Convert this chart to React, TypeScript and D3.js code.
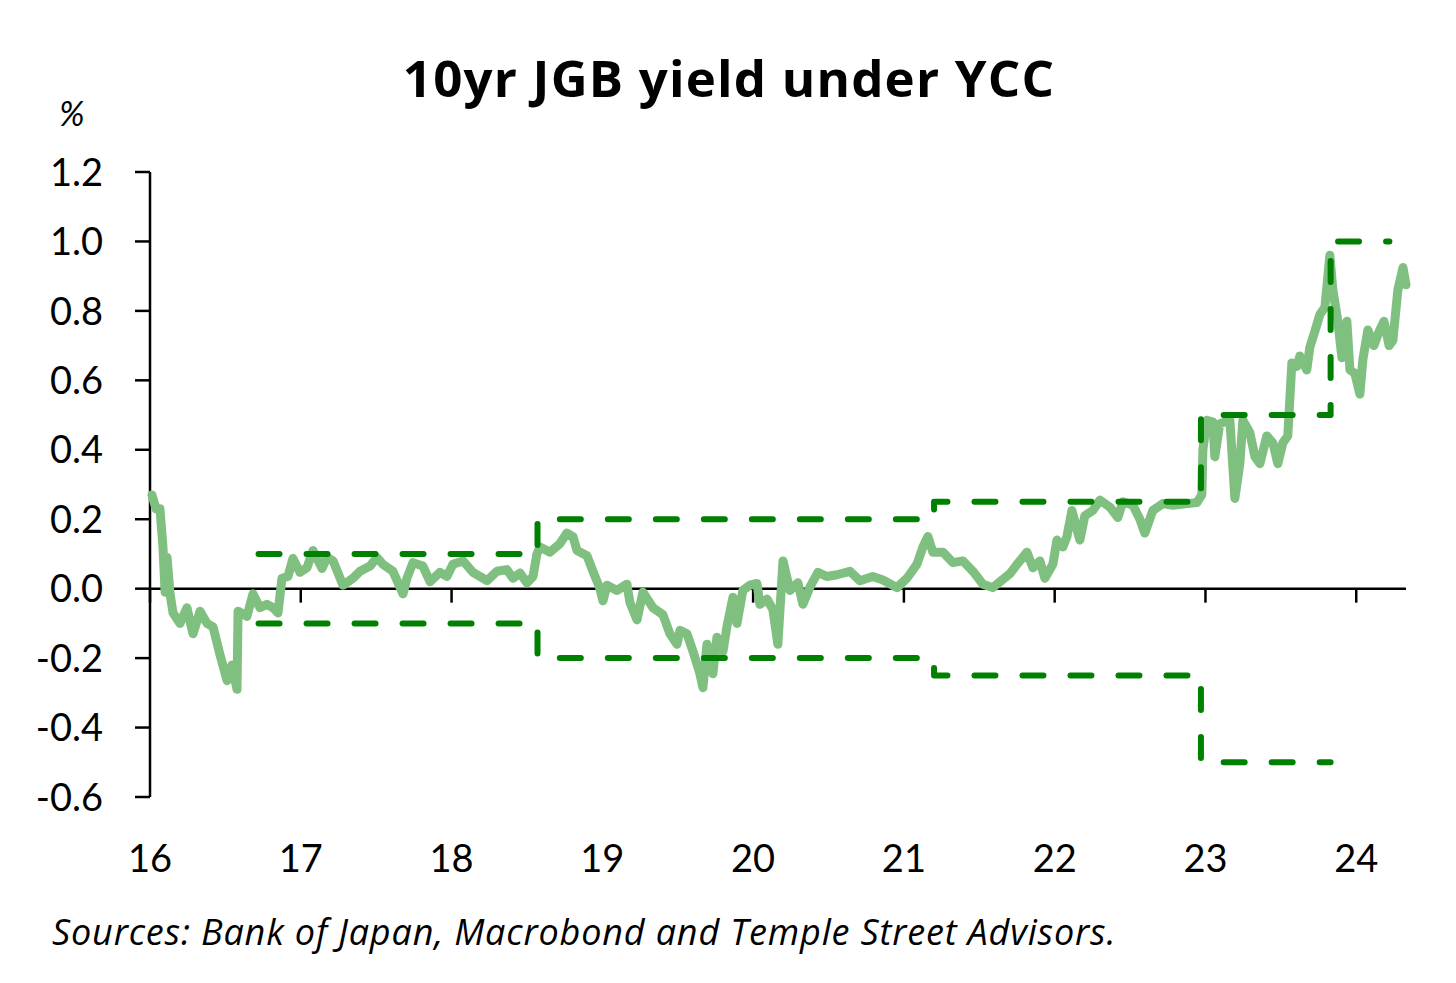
import React from "react";
import * as d3 from "d3";

// 10yr JGB yield (decimal year, %)
const yieldDates: number[] = [
  16.013, 16.04, 16.066, 16.086, 16.1, 16.113, 16.133, 16.153, 16.199, 16.245, 16.285, 16.332, 16.378, 16.418,
  16.464, 16.511, 16.544, 16.577, 16.584, 16.643, 16.683, 16.729, 16.776, 16.816, 16.849, 16.875, 16.915, 16.948,
  16.995, 17.041, 17.081, 17.141, 17.174, 17.214, 17.28, 17.346, 17.393, 17.459, 17.505, 17.545, 17.611, 17.678,
  17.704, 17.744, 17.81, 17.857, 17.923, 17.969, 18.009, 18.076, 18.142, 18.235, 18.301, 18.367, 18.407, 18.454,
  18.5, 18.54, 18.566, 18.586, 18.653, 18.719, 18.765, 18.805, 18.832, 18.898, 18.938, 18.984, 19.004, 19.031,
  19.097, 19.163, 19.183, 19.23, 19.269, 19.336, 19.402, 19.448, 19.495, 19.515, 19.561, 19.601, 19.647, 19.667,
  19.694, 19.733, 19.76, 19.8, 19.826, 19.866, 19.893, 19.932, 19.979, 20.025, 20.045, 20.092, 20.131, 20.164,
  20.198, 20.244, 20.297, 20.33, 20.377, 20.43, 20.489, 20.556, 20.642, 20.708, 20.794, 20.861, 20.954, 21.02,
  21.086, 21.126, 21.159, 21.192, 21.259, 21.325, 21.391, 21.458, 21.524, 21.59, 21.637, 21.703, 21.75, 21.816,
  21.856, 21.902, 21.935, 21.988, 22.015, 22.054, 22.081, 22.114, 22.167, 22.2, 22.253, 22.3, 22.366, 22.419,
  22.452, 22.519, 22.565, 22.598, 22.651, 22.717, 22.784, 22.877, 22.943, 22.976, 22.983, 23.009, 23.049, 23.062,
  23.095, 23.162, 23.195, 23.228, 23.248, 23.294, 23.328, 23.361, 23.407, 23.447, 23.48, 23.513, 23.546, 23.573,
  23.606, 23.626, 23.672, 23.692, 23.725, 23.759, 23.792, 23.825, 23.845, 23.878, 23.905, 23.938, 23.958, 23.991,
  24.024, 24.044, 24.077, 24.117, 24.151, 24.184, 24.218, 24.243, 24.276, 24.31, 24.33,
];
const yieldValues: number[] = [
  0.27, 0.23, 0.23, 0.12, -0.01, 0.09, -0.015, -0.07, -0.1, -0.055, -0.13, -0.065, -0.1, -0.11,
  -0.19, -0.265, -0.22, -0.29, -0.065, -0.08, -0.015, -0.055, -0.045, -0.055, -0.07, 0.03, 0.035, 0.087,
  0.047, 0.06, 0.11, 0.058, 0.09, 0.08, 0.01, 0.03, 0.05, 0.065, 0.09, 0.07, 0.05, -0.015,
  0.03, 0.075, 0.065, 0.02, 0.047, 0.035, 0.07, 0.08, 0.047, 0.023, 0.05, 0.055, 0.03, 0.045,
  0.017, 0.035, 0.1, 0.12, 0.105, 0.13, 0.16, 0.15, 0.11, 0.095, 0.05, 0.0, -0.035, 0.01,
  -0.005, 0.013, -0.04, -0.09, -0.01, -0.055, -0.075, -0.13, -0.16, -0.12, -0.13, -0.18, -0.245, -0.285,
  -0.16, -0.245, -0.14, -0.18, -0.11, -0.025, -0.1, -0.005, 0.01, 0.015, -0.045, -0.03, -0.06, -0.16,
  0.08, -0.005, 0.017, -0.045, 0.005, 0.047, 0.035, 0.04, 0.05, 0.023, 0.035, 0.025, 0.003, 0.03,
  0.07, 0.12, 0.15, 0.105, 0.105, 0.075, 0.08, 0.05, 0.013, 0.003, 0.02, 0.043, 0.07, 0.105,
  0.06, 0.08, 0.03, 0.07, 0.14, 0.12, 0.15, 0.225, 0.14, 0.21, 0.225, 0.255, 0.235, 0.205,
  0.25, 0.24, 0.2, 0.16, 0.225, 0.245, 0.24, 0.245, 0.248, 0.27, 0.4, 0.485, 0.48, 0.38,
  0.475, 0.485, 0.26, 0.36, 0.485, 0.45, 0.38, 0.36, 0.44, 0.42, 0.36, 0.42, 0.44, 0.65,
  0.64, 0.67, 0.63, 0.695, 0.74, 0.79, 0.81, 0.96, 0.86, 0.77, 0.665, 0.77, 0.63, 0.62,
  0.56, 0.66, 0.745, 0.7, 0.74, 0.77, 0.7, 0.715, 0.86, 0.925, 0.875,
];

// YCC band (step changes)
const bandDates: number[] = [16.7, 18.57, 18.57, 21.2, 21.2, 22.97, 22.97, 23.83, 23.83, 24.22];
const upperBand: number[] = [0.1, 0.1, 0.2, 0.2, 0.25, 0.25, 0.5, 0.5, 1.0, 1.0];
const lowerBand: number[] = [-0.1, -0.1, -0.2, -0.2, -0.25, -0.25, -0.5, -0.5];

const yTicks: number[] = [1.2, 1.0, 0.8, 0.6, 0.4, 0.2, 0.0, -0.2, -0.4, -0.6];
const xTicks: number[] = [16, 17, 18, 19, 20, 21, 22, 23, 24];
const xTickLabels: string[] = ["16", "17", "18", "19", "20", "21", "22", "23", "24"];

const title = "10yr JGB yield under YCC";
const unitLabel = "%";
const sourceText = "Sources: Bank of Japan, Macrobond and Temple Street Advisors.";

export default function App() {
  const W = 1456;
  const H = 983;
  const x = d3.scaleLinear().domain([16, 24.33]).range([150, 1406]);
  const y = d3.scaleLinear().domain([-0.6, 1.2]).range([797, 172]);

  const pts: [number, number][] = yieldDates.map((d, i) => [d, yieldValues[i]]);
  const line = d3
    .line<[number, number]>()
    .x((d) => x(d[0]))
    .y((d) => y(d[1]))
    .curve(d3.curveLinear);

  const upPts: [number, number][] = upperBand.map((v, i) => [bandDates[i], v]);
  const loPts: [number, number][] = lowerBand.map((v, i) => [bandDates[i], v]);

  const font = "Lato, 'Open Sans', sans-serif";
  const wideFont = "'Open Sans', Lato, sans-serif";
  const dashColor = "#008000";

  return (
    <svg
      width={W}
      height={H}
      viewBox={`0 0 ${W} ${H}`}
      style={{ position: "absolute", left: 0, top: 0, background: "#fff" }}
    >
      <rect x={0} y={0} width={W} height={H} fill="#fff" />
      <text
        x={729}
        y={97}
        textAnchor="middle"
        fontFamily={wideFont}
        fontWeight={700}
        fontSize={51}
        letterSpacing={1.2}
        fill="#000"
      >
        {title}
      </text>
      <text x={72} y={126} textAnchor="middle" fontFamily={font} fontStyle="italic" fontSize={34} fill="#000">
        {unitLabel}
      </text>

      {/* Y axis */}
      <line x1={150} x2={150} y1={y(1.2)} y2={y(-0.6)} stroke="#000" strokeWidth={2.5} />
      {yTicks.map((t) => (
        <g key={t}>
          <line x1={135} x2={150} y1={y(t)} y2={y(t)} stroke="#000" strokeWidth={2.5} />
          <text
            x={103}
            y={y(t)}
            dy="0.36em"
            textAnchor="end"
            fontFamily={font}
            fontSize={38}
            fill="#000"
          >
            {t.toFixed(1)}
          </text>
        </g>
      ))}

      {/* X axis at zero */}
      <line x1={150} x2={1406} y1={y(0)} y2={y(0)} stroke="#000" strokeWidth={2.5} />
      {xTicks.map((t, i) => (
        <g key={t}>
          <line x1={x(t)} x2={x(t)} y1={y(0)} y2={y(0) + 14} stroke="#000" strokeWidth={2.5} />
          <text
            x={x(t)}
            y={858}
            dy="0.36em"
            textAnchor="middle"
            fontFamily={font}
            fontSize={38}
            fill="#000"
          >
            {xTickLabels[i]}
          </text>
        </g>
      ))}

      {/* yield line */}
      <path
        d={line(pts) || ""}
        fill="none"
        stroke="#7fbf7f"
        strokeWidth={9}
        strokeLinejoin="round"
        strokeLinecap="round"
      />

      {/* YCC band */}
      {[upPts, loPts].map((p, i) => (
        <path
          key={i}
          d={line(p) || ""}
          fill="none"
          stroke={dashColor}
          strokeWidth={6}
          strokeDasharray="21 27"
          strokeDashoffset={-3}
          strokeLinecap="round"
          strokeLinejoin="round"
        />
      ))}

      <text x={52} y={945} fontFamily={wideFont} fontStyle="italic" fontSize={36} letterSpacing={0.83} fill="#000">
        {sourceText}
      </text>
    </svg>
  );
}
